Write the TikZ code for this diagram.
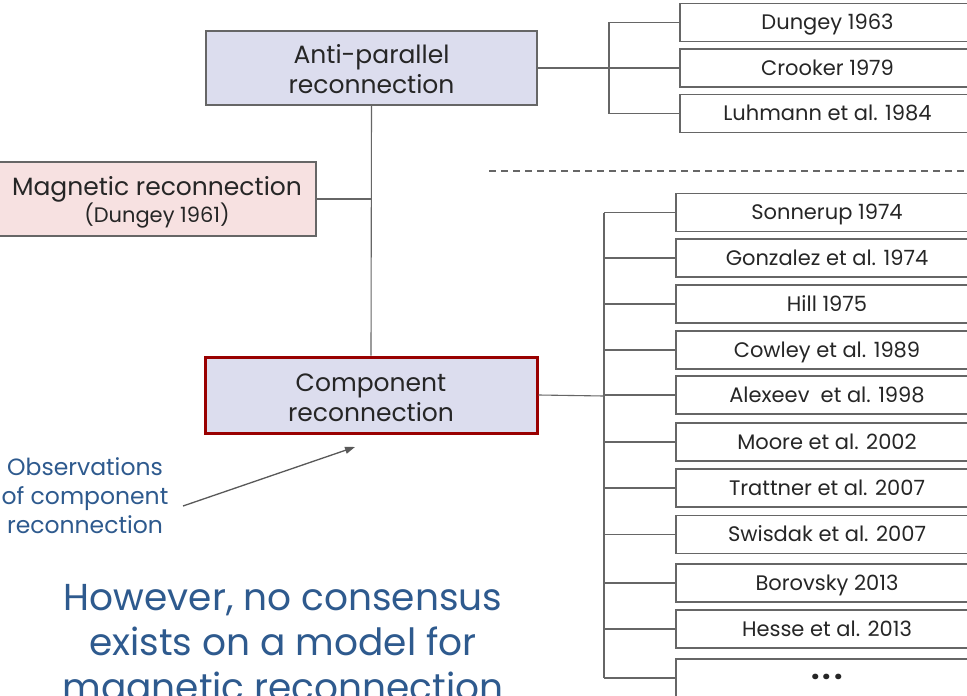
\documentclass[tikz,border=0pt]{standalone}
\usepackage{fontspec}
\setmainfont{Poppins}
\usetikzlibrary{arrows.meta}
\definecolor{lav}{HTML}{DCDDEE}
\definecolor{pinkf}{HTML}{F7E1E1}
\definecolor{redb}{HTML}{990000}
\definecolor{edge}{HTML}{666666}
\definecolor{bluet}{HTML}{2E5A8E}
\newcommand{\lowr}[2]{\raisebox{-#1}[\height][\depth]{#2}}
\tikzset{
  x=1pt, y=-1pt,
  bigbox/.style={draw=edge, line width=1.2pt, fill=lav, align=center, inner sep=0pt,
    font=\fontsize{25}{30}\selectfont, text=black!85},
  refbox/.style={draw=edge, line width=1.2pt, fill=white, inner sep=0pt,
    minimum height=38pt, text height=15pt, text depth=0.5pt,
    font=\fontsize{21}{24}\selectfont, text=black!85},
  link/.style={draw=edge, line width=1.1pt},
}
\begin{document}
\begin{tikzpicture}
\useasboundingbox (0,0) rectangle (967,696);
\clip (0,0) rectangle (967,696);
\fill[white] (0,0) rectangle (967,696);

% main boxes
\node[bigbox, minimum width=331pt, minimum height=74pt] (anti) at (371.5,68) {\lowr{1pt}{Anti-parallel}\\\lowr{1pt}{reconnection}};
\node[bigbox, fill=pinkf, minimum width=318pt, minimum height=74pt] (mag) at (157,199)
  {\lowr{3pt}{Magnetic reconnection}\\[-3pt]{\fontsize{21}{24}\selectfont \lowr{3pt}{(Dungey 1961)}}};
\node[bigbox, draw=redb, line width=3pt, minimum width=332pt, minimum height=76pt] (comp) at (371,395) {\lowr{2.5pt}{Component}\\\lowr{2.5pt}{reconnection}};

% top references
\node[refbox, minimum width=295pt] (d1) at (827.5,22.5) {Dungey 1963};
\node[refbox, minimum width=295pt] (d2) at (827.5,68) {Crooker 1979};
\node[refbox, minimum width=295pt] (d3) at (827.5,113.5) {Luhmann et al. 1984};

% dashed separator
\coordinate (dsA) at (489,171);
\coordinate (dsB) at (967,171);
\draw[edge, line width=1.1pt, dash pattern=on 7pt off 5pt] (dsA) -- (dsB);

% bottom references
\foreach \n/\y/\t in {s1/212.5/Sonnerup 1974, s2/258/Gonzalez et al. 1974, s3/304/Hill 1975,
  s4/350/Cowley et al. 1989, s5/395/Alexeev\ \ et al. 1998, s6/442/Moore et al. 2002,
  s7/488/Trattner et al. 2007, s8/534.5/Swisdak et al. 2007, s9/583/Borovsky 2013,
  s10/629/Hesse et al. 2013}
  \node[refbox, minimum width=302pt] (\n) at (827,\y) {\t};
\node[refbox, minimum width=302pt, font=\fontsize{30}{30}\selectfont\bfseries] (s11) at (827,678)
  {\raisebox{6pt}{.\hspace{3pt}.\hspace{3pt}.}};

% connectors: anti-parallel
\coordinate (tj) at (609,68);
\draw[link] (anti.east) -- (tj);
\draw[link] (tj) |- (d1.west);
\draw[link] (tj) -- (d2.west);
\draw[link] (tj) |- (d3.west);

% central spine
\draw[link] (anti.south) -- (comp.north);
\draw[link] (mag.east) -- (mag.east -| anti.south);

% component references
\coordinate (bj) at (604,396);
\draw[link] (comp.east) -- (bj);
\draw[link] (s1.west -| bj) -- (s11.west -| bj);
\foreach \n in {s1,s2,s3,s4,s5,s6,s7,s8,s9,s10,s11}
  \draw[link] (\n.west -| bj) -- (\n.west);

% observations annotation
\node[text=bluet, align=center, font=\fontsize{23.5}{29}\selectfont] (obs) at (85,496)
  {Observations\\of component\\reconnection};
\coordinate (arrS) at (183,506);
\coordinate (arrE) at (355,447);
\draw[draw=black!65, fill=black!65, line width=1.3pt, -{Triangle[length=10pt,width=7pt]}] (arrS) -- (arrE);

% conclusion
\node[text=bluet, align=center, font=\fontsize{37.5}{45}\selectfont] (concl) at (283,647)
  {However, no consensus\\exists on a model for\\magnetic reconnection};
\end{tikzpicture}
\end{document}
